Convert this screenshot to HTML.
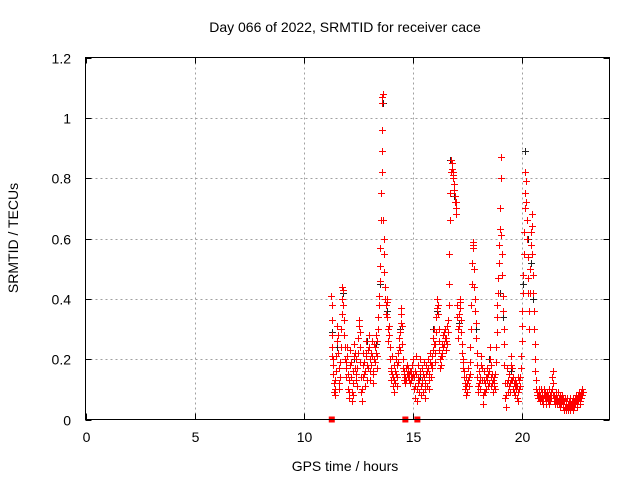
<!DOCTYPE html>
<html><head><meta charset="utf-8"><style>
html,body{margin:0;padding:0;background:#fff}
svg{display:block;font-family:"Liberation Sans",sans-serif}
</style></head><body>
<svg id="chart" width="640" height="480" viewBox="0 0 640 480">
<text x="345" y="32" text-anchor="middle" font-size="14" fill="#000">Day 066 of 2022, SRMTID for receiver cace</text>
<text x="345" y="471" text-anchor="middle" font-size="14" fill="#000">GPS time / hours</text>
<text transform="translate(18,238) rotate(-90)" text-anchor="middle" font-size="14" fill="#000">SRMTID / TECUs</text>
<g id="grid"></g>
<g id="axes"></g>
<g id="marks"></g>
<rect x="85.5" y="57.5" width="524" height="362" fill="none" stroke="#000" stroke-width="1"/>
</svg>
<script>
const xTicks = [0,5,10,15,20];
const yTicks = [0,0.2,0.4,0.6,0.8,1,1.2];
const yTickLabels = ["0","0.2","0.4","0.6","0.8","1","1.2"];
const zeroMarks = [11.28,14.65,15.2];
const blackPoints = [[11.27,0.29],[11.5,0.24],[11.8,0.42],[12.3,0.2],[12.9,0.26],[13.3,0.25],[13.5,0.45],[13.62,1.05],[13.8,0.36],[14.4,0.3],[15.3,0.14],[15.9,0.3],[16.1,0.36],[16.7,0.86],[16.9,0.74],[17.1,0.32],[17.74,0.57],[17.9,0.3],[18.5,0.2],[19.0,0.42],[19.1,0.34],[19.5,0.16],[20.05,0.45],[20.15,0.89],[20.25,0.6],[20.4,0.52],[20.5,0.4],[20.9,0.09],[21.5,0.06],[22.2,0.05],[22.7,0.08]];
const redPoints = [
[11.26,0.41],[11.27,0.38],[11.28,0.33],[11.29,0.28],[11.30,0.24],[11.31,0.21],[11.32,0.18],[11.33,0.15],[11.35,0.20],[11.37,0.12],[11.39,0.09],[11.41,0.08],[11.43,0.10],[11.45,0.13],[11.47,0.16],[11.49,0.21],[11.51,0.26],[11.53,0.31],[11.55,0.28],[11.57,0.22],[11.59,0.17],[11.61,0.12],[11.63,0.10],[11.65,0.14],[11.67,0.19],[11.69,0.24],[11.71,0.30],[11.73,0.35],[11.75,0.40],[11.77,0.44],[11.79,0.43],[11.81,0.38],[11.83,0.33],[11.85,0.28],[11.87,0.24],[11.89,0.20],[11.91,0.17],[11.93,0.14],[11.95,0.19],[11.97,0.24],[11.99,0.21],
[12.01,0.15],[12.03,0.10],[12.05,0.07],[12.07,0.09],[12.09,0.13],[12.11,0.18],[12.13,0.23],[12.15,0.19],[12.17,0.14],[12.19,0.09],[12.21,0.06],[12.23,0.08],[12.25,0.12],[12.27,0.16],[12.29,0.21],[12.31,0.25],[12.33,0.22],[12.35,0.17],[12.37,0.13],[12.39,0.20],[12.41,0.15],[12.43,0.11],[12.45,0.17],[12.47,0.22],[12.49,0.27],[12.51,0.31],[12.53,0.33],[12.55,0.29],[12.57,0.24],[12.59,0.19],[12.61,0.14],[12.63,0.09],[12.65,0.06],[12.67,0.10],[12.69,0.14],[12.71,0.18],[12.73,0.22],[12.75,0.19],[12.77,0.15],[12.79,0.11],[12.81,0.16],[12.83,0.21],[12.85,0.26],[12.87,0.22],[12.89,0.18],[12.91,0.13],[12.93,0.17],[12.95,0.23],[12.97,0.28],[12.99,0.24],
[13.01,0.20],[13.03,0.16],[13.05,0.13],[13.07,0.18],[13.09,0.22],[13.11,0.26],[13.13,0.21],[13.15,0.16],[13.17,0.12],[13.19,0.15],[13.21,0.20],[13.23,0.25],[13.25,0.19],[13.27,0.24],[13.29,0.28],[13.31,0.22],[13.33,0.17],[13.35,0.21],[13.37,0.26],[13.39,0.30],[13.41,0.34],[13.43,0.38],[13.45,0.41],[13.47,0.46],[13.49,0.51],[13.51,0.57],[13.53,0.66],[13.55,0.75],[13.56,0.82],[13.57,0.89],[13.58,0.96],[13.59,1.05],[13.60,1.07],[13.61,1.08],[13.63,0.66],[13.65,0.60],[13.67,0.55],[13.69,0.49],[13.71,0.44],[13.73,0.40],[13.75,0.38],[13.77,0.35],[13.79,0.40],[13.81,0.39],[13.83,0.34],[13.85,0.30],[13.87,0.26],[13.89,0.31],[13.91,0.28],[13.93,0.24],[13.95,0.20],[13.97,0.16],[13.99,0.13],
[14.01,0.17],[14.03,0.21],[14.05,0.15],[14.07,0.11],[14.09,0.14],[14.11,0.18],[14.13,0.13],[14.15,0.09],[14.17,0.12],[14.19,0.16],[14.21,0.20],[14.23,0.15],[14.25,0.11],[14.27,0.14],[14.29,0.18],[14.31,0.22],[14.33,0.19],[14.35,0.24],[14.37,0.27],[14.39,0.23],[14.41,0.29],[14.43,0.32],[14.45,0.35],[14.47,0.37],[14.49,0.31],[14.51,0.25],[14.53,0.20],[14.55,0.17],[14.57,0.15],[14.59,0.13],[14.61,0.16],[14.63,0.14],[14.65,0.12],[14.67,0.17],[14.69,0.13],[14.71,0.15],[14.73,0.18],[14.75,0.16],[14.77,0.14],[14.79,0.17],[14.81,0.15],[14.83,0.13],[14.85,0.16],[14.87,0.12],[14.89,0.15],[14.91,0.13],[14.93,0.16],[14.95,0.14],[14.97,0.18],[14.99,0.15],
[15.01,0.20],[15.03,0.14],[15.05,0.10],[15.07,0.07],[15.09,0.11],[15.11,0.16],[15.13,0.21],[15.15,0.15],[15.17,0.10],[15.19,0.06],[15.21,0.12],[15.23,0.18],[15.25,0.14],[15.27,0.09],[15.29,0.13],[15.31,0.20],[15.33,0.16],[15.35,0.11],[15.37,0.08],[15.39,0.12],[15.41,0.17],[15.43,0.13],[15.45,0.09],[15.47,0.15],[15.49,0.19],[15.51,0.14],[15.53,0.10],[15.55,0.07],[15.57,0.12],[15.59,0.18],[15.61,0.15],[15.63,0.11],[15.65,0.16],[15.67,0.20],[15.69,0.17],[15.71,0.13],[15.73,0.10],[15.75,0.15],[15.77,0.19],[15.79,0.22],[15.81,0.18],[15.83,0.14],[15.85,0.17],[15.87,0.21],[15.89,0.18],[15.91,0.23],[15.93,0.27],[15.95,0.30],[15.97,0.25],[15.99,0.22],
[16.01,0.19],[16.03,0.25],[16.05,0.29],[16.07,0.34],[16.09,0.37],[16.11,0.40],[16.13,0.38],[16.15,0.35],[16.17,0.30],[16.19,0.26],[16.21,0.23],[16.23,0.20],[16.25,0.17],[16.27,0.21],[16.29,0.18],[16.31,0.22],[16.33,0.25],[16.35,0.21],[16.37,0.24],[16.39,0.28],[16.41,0.25],[16.43,0.29],[16.45,0.27],[16.47,0.30],[16.49,0.26],[16.51,0.23],[16.53,0.27],[16.55,0.31],[16.57,0.25],[16.59,0.29],[16.61,0.33],[16.63,0.38],[16.65,0.45],[16.67,0.55],[16.69,0.66],[16.71,0.75],[16.73,0.82],[16.75,0.86],[16.77,0.85],[16.79,0.83],[16.81,0.82],[16.83,0.81],[16.85,0.80],[16.87,0.78],[16.89,0.76],[16.91,0.74],[16.93,0.72],[16.95,0.70],[16.97,0.68],[16.99,0.72],
[17.01,0.38],[17.03,0.34],[17.05,0.30],[17.07,0.27],[17.09,0.31],[17.11,0.35],[17.13,0.39],[17.15,0.40],[17.17,0.37],[17.19,0.33],[17.21,0.29],[17.23,0.25],[17.25,0.22],[17.27,0.19],[17.29,0.17],[17.31,0.20],[17.33,0.16],[17.35,0.14],[17.37,0.12],[17.39,0.10],[17.41,0.08],[17.43,0.11],[17.45,0.14],[17.47,0.12],[17.49,0.09],[17.51,0.13],[17.53,0.17],[17.55,0.14],[17.57,0.11],[17.59,0.15],[17.61,0.19],[17.63,0.24],[17.65,0.30],[17.67,0.38],[17.69,0.45],[17.71,0.52],[17.73,0.58],[17.75,0.59],[17.77,0.57],[17.79,0.50],[17.81,0.44],[17.83,0.40],[17.85,0.36],[17.87,0.32],[17.89,0.27],[17.91,0.22],[17.93,0.18],[17.95,0.14],[17.97,0.11],[17.99,0.09],
[18.01,0.12],[18.03,0.16],[18.05,0.13],[18.07,0.10],[18.09,0.14],[18.11,0.18],[18.13,0.21],[18.15,0.17],[18.17,0.13],[18.19,0.08],[18.21,0.05],[18.23,0.09],[18.25,0.13],[18.27,0.16],[18.29,0.12],[18.31,0.09],[18.33,0.14],[18.35,0.10],[18.37,0.14],[18.39,0.17],[18.41,0.13],[18.43,0.11],[18.45,0.15],[18.47,0.12],[18.49,0.16],[18.51,0.20],[18.53,0.24],[18.55,0.18],[18.57,0.14],[18.59,0.11],[18.61,0.15],[18.63,0.12],[18.65,0.09],[18.67,0.13],[18.69,0.11],[18.71,0.14],[18.73,0.12],[18.75,0.10],[18.77,0.15],[18.79,0.19],[18.81,0.24],[18.83,0.29],[18.85,0.34],[18.87,0.38],[18.89,0.42],[18.91,0.47],[18.93,0.52],[18.95,0.58],[18.97,0.63],[18.99,0.70],
[19.01,0.80],[19.03,0.87],[19.05,0.61],[19.07,0.55],[19.09,0.48],[19.11,0.41],[19.13,0.36],[19.15,0.30],[19.17,0.25],[19.19,0.18],[19.21,0.12],[19.23,0.07],[19.25,0.04],[19.27,0.08],[19.29,0.12],[19.31,0.17],[19.33,0.13],[19.35,0.09],[19.37,0.13],[19.39,0.11],[19.41,0.15],[19.43,0.12],[19.45,0.09],[19.47,0.13],[19.49,0.18],[19.51,0.21],[19.53,0.17],[19.55,0.13],[19.57,0.10],[19.59,0.14],[19.61,0.12],[19.63,0.09],[19.65,0.13],[19.67,0.11],[19.69,0.08],[19.71,0.12],[19.73,0.10],[19.75,0.07],[19.77,0.11],[19.79,0.14],[19.81,0.09],[19.83,0.06],[19.85,0.10],[19.87,0.13],[19.89,0.11],[19.91,0.14],[19.93,0.17],[19.95,0.21],[19.97,0.26],[19.99,0.31],
[20.01,0.36],[20.03,0.42],[20.05,0.48],[20.07,0.55],[20.09,0.62],[20.11,0.70],[20.13,0.75],[20.15,0.82],[20.17,0.79],[20.19,0.72],[20.21,0.66],[20.23,0.60],[20.25,0.54],[20.27,0.47],[20.29,0.42],[20.31,0.36],[20.33,0.30],[20.35,0.42],[20.37,0.50],[20.39,0.58],[20.41,0.62],[20.43,0.68],[20.45,0.64],[20.47,0.55],[20.49,0.48],[20.51,0.42],[20.53,0.36],[20.55,0.30],[20.57,0.25],[20.59,0.20],[20.61,0.16],[20.63,0.13],[20.65,0.10],[20.67,0.08],[20.69,0.09],[20.71,0.07],[20.73,0.08],[20.75,0.10],[20.77,0.07],[20.79,0.09],[20.81,0.06],[20.83,0.08],[20.85,0.07],[20.87,0.10],[20.89,0.08],[20.91,0.06],[20.93,0.09],[20.95,0.07],[20.97,0.05],[20.99,0.08],
[21.01,0.10],[21.03,0.07],[21.05,0.09],[21.07,0.06],[21.09,0.08],[21.11,0.05],[21.13,0.07],[21.15,0.09],[21.17,0.06],[21.19,0.08],[21.21,0.10],[21.23,0.07],[21.25,0.05],[21.27,0.08],[21.29,0.06],[21.31,0.09],[21.33,0.07],[21.35,0.10],[21.37,0.14],[21.39,0.16],[21.41,0.12],[21.43,0.08],[21.45,0.06],[21.47,0.08],[21.49,0.05],[21.51,0.07],[21.53,0.09],[21.55,0.06],[21.57,0.08],[21.59,0.05],[21.61,0.07],[21.63,0.06],[21.65,0.09],[21.67,0.07],[21.69,0.05],[21.71,0.08],[21.73,0.06],[21.75,0.04],[21.77,0.07],[21.79,0.05],[21.81,0.08],[21.83,0.06],[21.85,0.04],[21.87,0.07],[21.89,0.05],[21.91,0.03],[21.93,0.06],[21.95,0.04],[21.97,0.07],[21.99,0.05],
[22.01,0.03],[22.03,0.06],[22.05,0.04],[22.07,0.07],[22.09,0.05],[22.11,0.03],[22.13,0.06],[22.15,0.04],[22.17,0.07],[22.19,0.05],[22.21,0.03],[22.23,0.05],[22.25,0.04],[22.27,0.06],[22.29,0.04],[22.31,0.07],[22.33,0.05],[22.35,0.03],[22.37,0.06],[22.39,0.04],[22.41,0.07],[22.43,0.05],[22.45,0.08],[22.47,0.06],[22.49,0.04],[22.51,0.07],[22.53,0.05],[22.55,0.08],[22.57,0.06],[22.59,0.09],[22.61,0.07],[22.63,0.05],[22.65,0.08],[22.67,0.06],[22.69,0.09],[22.71,0.07],[22.73,0.10],[22.75,0.08],[22.77,0.09]
];

const NS = "http://www.w3.org/2000/svg";
const L = 85.5, R = 609.5, T = 57.5, B = 419.5;
function xScale(t){ return L + (t / 24) * (R - L); }
function yScale(v){ return B - (v / 1.2) * (B - T); }
function mk(tag, attrs, parent){
  const e = document.createElementNS(NS, tag);
  for (const k in attrs) e.setAttribute(k, attrs[k]);
  parent.appendChild(e);
  return e;
}
const grid = document.getElementById('grid');
const axes = document.getElementById('axes');
const marks = document.getElementById('marks');

xTicks.forEach(function(t){
  const x = Math.round(xScale(t)) + 0.5;
  if (t > 0) {
    const g = mk('line', {x1:x, x2:x, y1:T, y2:B, stroke:'#a0a0a0', 'stroke-dasharray':'2,3'}, grid);
    
    
  }
  const tk = mk('path', {d:'M'+x+' '+B+'v-6M'+x+' '+T+'v6', stroke:'#000'}, axes);
  
  
  const lb = mk('text', {x:x, y:442, 'text-anchor':'middle', 'font-size':'14'}, axes);
  lb.textContent = String(t);
  
  
});
yTicks.forEach(function(v, i){
  const y = Math.round(yScale(v)) + 0.5;
  if (v > 0 && v < 1.2) {
    const g = mk('line', {x1:L, x2:R, y1:y, y2:y, stroke:'#a0a0a0', 'stroke-dasharray':'2,3'}, grid);
    
    
  }
  const tk = mk('path', {d:'M'+L+' '+y+'h6M'+R+' '+y+'h-6', stroke:'#000'}, axes);
  
  
  const lb = mk('text', {x:71, y:y+5, 'text-anchor':'end', 'font-size':'14'}, axes);
  lb.textContent = yTickLabels[i];
  
  
});
function plus(t, v, color){
  const x = Math.round(xScale(t)) + 0.5, y = Math.round(yScale(v)) + 0.5;
  const p = mk('path', {d:'M'+(x-3.5)+' '+y+'h7M'+x+' '+(y-3.5)+'v7', stroke:color, 'stroke-width':'1', fill:'none'}, marks);
  return p;
}
blackPoints.forEach(function(p){
  const el = plus(p[0], p[1], '#222');
  
  
});
redPoints.forEach(function(p){
  const el = plus(p[0], p[1], '#ff0000');
  
  
});
zeroMarks.forEach(function(t){
  const x = xScale(t);
  const r = mk('rect', {x:x-3, y:B-3, width:6, height:6, fill:'#ff0000'}, marks);
  
  
});
</script>
</body></html>
